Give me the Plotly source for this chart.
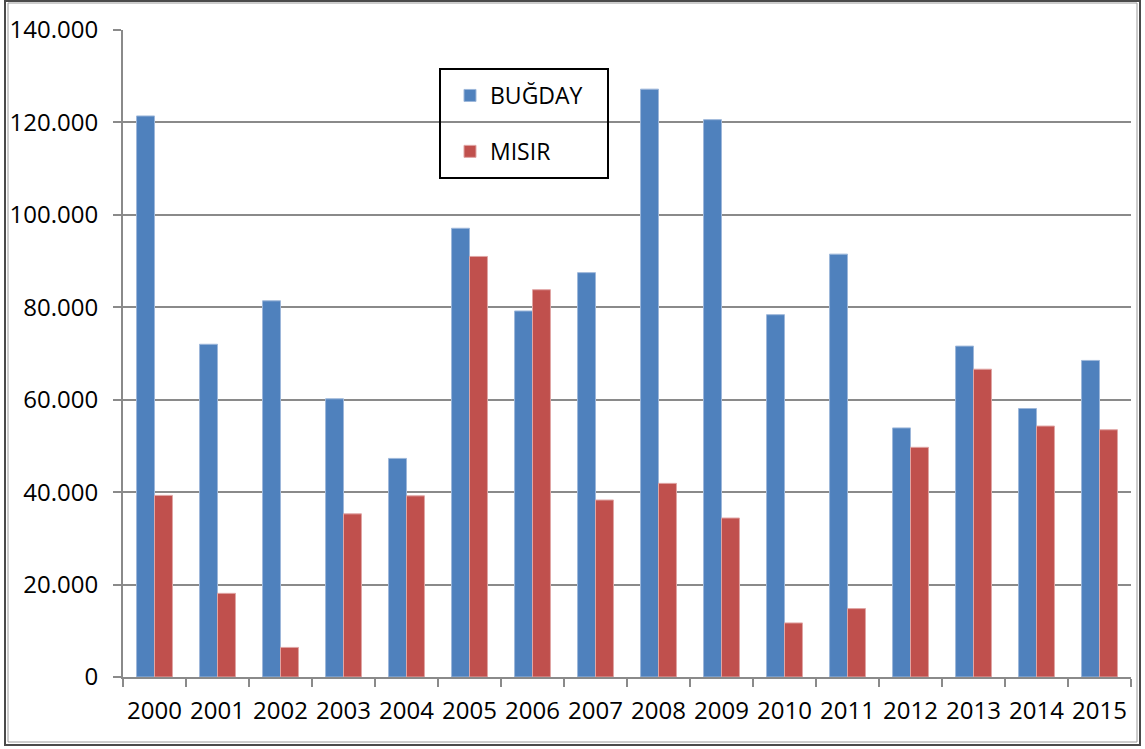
import plotly.graph_objects as go

years = [str(y) for y in range(2000, 2016)]
bugday = [121400, 72000, 81400, 60200, 47300, 97100, 79200, 87500,
          127200, 120600, 78400, 91500, 53900, 71600, 58100, 68500]
misir = [39300, 18100, 6400, 35300, 39200, 91000, 83800, 38300,
         41900, 34400, 11700, 14800, 49700, 66600, 54300, 53500]

W, H = 1145, 749
L, R, T, B = 123, 14, 30, 72
pw, ph = W - L - R, H - T - B


def px_x(x):
    return (x - L) / pw


def px_y(y):
    return (H - B - y) / ph


fnt = "'Open Sans', Lato, sans-serif"
grid_clr = "#8a8a8a"

fig = go.Figure()
fig.add_trace(go.Bar(
    x=years, y=bugday, name="BUĞDAY", legendgroup="a",
    marker=dict(color="#4F81BD", line=dict(color="#9DB7DA", width=1)),
))
fig.add_trace(go.Bar(
    x=years, y=misir, name="MISIR", legendgroup="b",
    marker=dict(color="#C0504D", line=dict(color="#E0A5A4", width=1)),
))

fig.update_layout(
    width=W, height=H,
    margin=dict(l=L, r=R, t=T, b=B, autoexpand=False),
    paper_bgcolor="white", plot_bgcolor="white",
    font=dict(family=fnt, size=24, color="black"),
    separators=",.",
    barmode="group", bargap=0.43, bargroupgap=0,
    showlegend=True,
    legend=dict(
        x=px_x(450), y=px_y(74), xanchor="left", yanchor="top",
        bgcolor="rgba(0,0,0,0)", borderwidth=0,
        font=dict(family=fnt, size=23),
        traceorder="grouped", tracegroupgap=23,
    ),
)

fig.update_yaxes(
    range=[0, 140000], tickvals=list(range(0, 140001, 20000)), tickformat=",",
    showgrid=True, gridcolor=grid_clr, gridwidth=2,
    showline=True, linecolor=grid_clr, linewidth=2,
    ticks="outside", ticklen=8, tickcolor=grid_clr, tickwidth=2,
    ticklabelstandoff=10, zeroline=False, automargin=False,
)
fig.update_xaxes(
    type="category", tickson="boundaries", tickangle=0,
    showgrid=False, showline=True, linecolor=grid_clr, linewidth=2,
    ticks="outside", ticklen=8, tickcolor=grid_clr, tickwidth=2,
    ticklabelstandoff=11, automargin=False,
)

# legend frame
fig.add_shape(type="rect", xref="paper", yref="paper",
              x0=px_x(440), x1=px_x(608), y0=px_y(178), y1=px_y(69),
              line=dict(color="black", width=2), layer="above")

# chart border
fig.add_shape(type="rect", xref="paper", yref="paper",
              x0=px_x(5), x1=px_x(1140), y0=px_y(745), y1=px_y(1),
              line=dict(color="#4a4a4a", width=2), layer="below")
fig.add_shape(type="rect", xref="paper", yref="paper",
              x0=px_x(8), x1=px_x(1137), y0=px_y(742), y1=px_y(3),
              line=dict(color="#9a9a9a", width=1), layer="below")

fig.write_html("out.html", config={"displayModeBar": False},
               post_script="document.body.style.margin='0';")
